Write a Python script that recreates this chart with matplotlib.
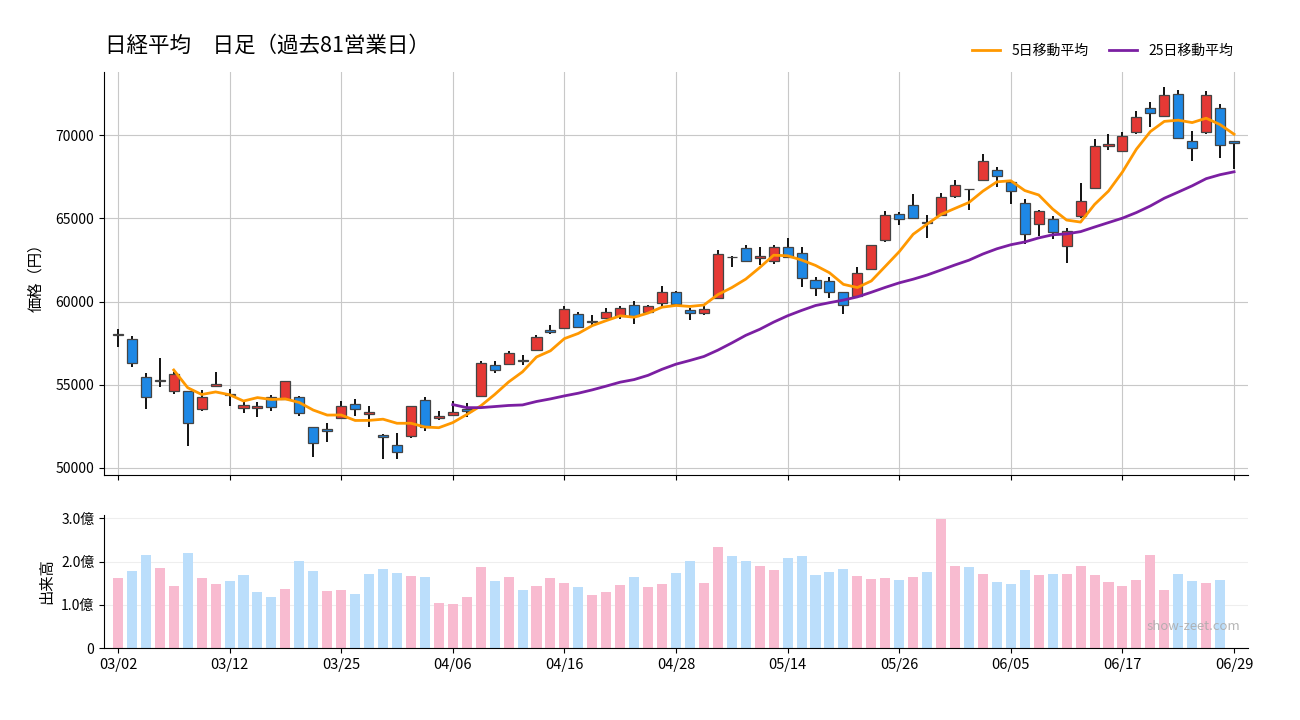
import numpy as np
import pandas as pd
import matplotlib
matplotlib.use("Agg")
import matplotlib.pyplot as plt
from matplotlib.ticker import FuncFormatter

plt.rcParams['font.family'] = ['Noto Sans CJK JP', 'DejaVu Sans']

title = "日経平均　日足（過去81営業日）"

opens = [58000, 57730, 55450, 55245, 54640, 54610, 53525, 54905, 54400, 53585,
         53585, 54245, 54125, 54245, 52445, 52340, 52985, 53825, 53225, 52000,
         51365, 51900, 54065, 52985, 53165, 53520, 54345, 56170, 56230, 56445,
         57070, 58270, 58425, 59250, 58790, 59030, 59150, 59790, 59390, 59890,
         60550, 59470, 59330, 60230, 62670, 63195, 62595, 62415, 63255, 62895,
         61275, 61215, 60550, 60350, 61935, 63675, 65235, 65775, 64800, 65175,
         66355, 66740, 67280, 67880, 67175, 65935, 64635, 64935, 63335, 65150,
         66800, 69320, 69020, 70200, 71605, 71125, 72445, 69620, 70180, 71605,
         69620]
highs = [58330, 57930, 55720, 56610, 55780, 54650, 54685, 55765, 54725, 53965,
         53965, 54400, 55245, 54325, 52480, 52685, 54040, 54160, 53725, 52040,
         52120, 53745, 54280, 53425, 54025, 53920, 56445, 56445, 57045, 56785,
         57990, 58590, 59730, 59370, 59170, 59610, 59730, 60030, 59770, 60950,
         60630, 59610, 59730, 63090, 62730, 63395, 63275, 63395, 63815, 63275,
         61490, 61490, 60550, 62090, 63415, 65435, 65375, 66475, 65175, 66495,
         67300, 66760, 68860, 68080, 67300, 66155, 65495, 65135, 64395, 67115,
         69760, 70060, 70180, 71440, 71980, 72900, 72700, 70240, 72640, 71860,
         69620]
lows = [57250, 56050, 53560, 54880, 54440, 51320, 53440, 54880, 53720, 53285,
        53080, 53440, 54085, 53125, 50640, 51560, 52960, 53125, 52480, 50520,
        50520, 51820, 52220, 52885, 53165, 53080, 54325, 55725, 56210, 56185,
        57000, 58050, 58365, 58450, 58590, 58950, 58970, 58630, 59230, 59590,
        59750, 58890, 59210, 60150, 62090, 62375, 62190, 62270, 62655, 60890,
        60350, 60230, 59265, 60290, 61875, 63555, 64610, 65010, 63830, 65155,
        66235, 65495, 67255, 66895, 65875, 63435, 63915, 63735, 62330, 65030,
        66755, 69120, 68990, 70080, 70500, 71065, 69800, 68455, 70040, 68635,
        67975]
closes = [58000, 56290, 54250, 55245, 55650, 52680, 54250, 55025, 54400, 53765,
          53705, 53680, 55205, 53320, 51485, 52205, 53705, 53560, 53345, 51845,
          50980, 53705, 52445, 53125, 53380, 53400, 56290, 55870, 56890, 56445,
          57850, 58150, 59530, 58450, 58790, 59350, 59590, 59110, 59710, 60550,
          59870, 59290, 59530, 62835, 62670, 62415, 62750, 63255, 62655, 61395,
          60795, 60550, 59770, 61695, 63375, 65175, 64960, 65010, 64740, 66295,
          66980, 66740, 68420, 67520, 66620, 64035, 65415, 64190, 64215, 66015,
          69320, 69440, 69920, 71065, 71305, 72385, 69800, 69200, 72385, 69380,
          69500]
# 出来高（億株）: the last day has no volume bar
volumes = [1.63, 1.79, 2.16, 1.86, 1.44, 2.21, 1.63, 1.49, 1.56, 1.70,
           1.30, 1.19, 1.37, 2.02, 1.79, 1.33, 1.35, 1.26, 1.72, 1.84,
           1.74, 1.67, 1.65, 1.05, 1.02, 1.19, 1.88, 1.56, 1.65, 1.35,
           1.44, 1.63, 1.51, 1.42, 1.23, 1.30, 1.47, 1.65, 1.42, 1.49,
           1.74, 2.02, 1.51, 2.33, 2.14, 2.02, 1.91, 1.81, 2.09, 2.14,
           1.70, 1.77, 1.84, 1.67, 1.60, 1.63, 1.58, 1.65, 1.77, 2.98,
           1.91, 1.88, 1.72, 1.53, 1.49, 1.81, 1.70, 1.72, 1.72, 1.91,
           1.70, 1.53, 1.44, 1.58, 2.16, 1.35, 1.72, 1.56, 1.51, 1.58,
           np.nan]

tick_labels = ["03/02", "03/12", "03/25", "04/06", "04/16", "04/28",
               "05/14", "05/26", "06/05", "06/17", "06/29"]
tick_positions = [0, 8, 16, 24, 32, 40, 48, 56, 64, 72, 80]

o = np.array(opens, float)
h = np.array(highs, float)
l = np.array(lows, float)
c = np.array(closes, float)
v = np.array(volumes, float) * 1e8
x = np.arange(len(c))

ma5 = pd.Series(c).rolling(5).mean()
ma25 = pd.Series(c).rolling(25).mean()

RED = "#e53935"
BLUE = "#1e88e5"
DOJI = "#5d4037"
PINK = "#f8bbd0"
LBLUE = "#bbdefb"

fig = plt.figure(figsize=(13, 7.2), dpi=100)
ax = fig.add_axes([0.08, 0.3403, 0.88, 0.5597])
axv = fig.add_axes([0.08, 0.10, 0.88, 0.1847])

ax.set_axisbelow(True)
ax.grid(True, color="#c8c8c8", linewidth=0.8)

ax.vlines(x, l, h, color="#111111", linewidth=1.4, zorder=2)
body_col = [RED if cc > oo else (BLUE if cc < oo else DOJI) for oo, cc in zip(o, c)]
bottoms = np.minimum(o, c)
heights = np.maximum(np.abs(c - o), 25)
ax.bar(x, heights, bottom=bottoms, width=0.72, color=body_col,
       edgecolor="#444444", linewidth=0.9, zorder=3)

ax.plot(x, ma5, color="#ff9800", linewidth=2, label="5日移動平均", zorder=4)
ax.plot(x, ma25, color="#7b1fa2", linewidth=2, label="25日移動平均", zorder=4)

ax.set_xlim(-1, 81)
ax.set_ylim(49580, 73790)
ax.set_yticks([50000, 55000, 60000, 65000, 70000])
ax.set_yticklabels(["50000", "55000", "60000", "65000", "70000"], fontsize=10)
ax.set_xticks(tick_positions)
ax.set_xticklabels([])
ax.set_ylabel("価格（円）", fontsize=11, labelpad=8)
for s in ["top", "right"]:
    ax.spines[s].set_visible(False)

prev = np.concatenate([[c[0] - 1], c[:-1]])
vol_col = [PINK if cc >= pp else LBLUE for cc, pp in zip(c, prev)]
axv.set_axisbelow(True)
axv.grid(True, axis="y", color="#eeeeee", linewidth=0.8)
axv.bar(x, v, width=0.72, color=vol_col, zorder=2)
axv.set_xlim(-1, 81)
axv.set_ylim(0, 3.08e8)
axv.set_yticks([0, 1e8, 2e8, 3e8])
axv.yaxis.set_major_formatter(FuncFormatter(lambda val, p: "0" if val == 0 else f"{val/1e8:.1f}億"))
axv.tick_params(axis="y", labelsize=10)
axv.set_xticks(tick_positions)
axv.set_xticklabels(tick_labels, fontsize=10.5)
axv.set_ylabel("出来高", fontsize=11)
for s in ["top", "right"]:
    axv.spines[s].set_visible(False)
axv.text(0.993, 0.16, "show-zeet.com", transform=axv.transAxes, ha="right",
         va="center", fontsize=9.5, color="#aaaaaa", alpha=0.85, zorder=5)

fig.text(0.081, 0.937, title, fontsize=15.5, ha="left", va="center")
fig.legend(loc="upper right", bbox_to_anchor=(0.958, 0.957), ncol=2, frameon=False,
           fontsize=10, handlelength=2, columnspacing=1.5)

fig.savefig("out.png", dpi=100)
